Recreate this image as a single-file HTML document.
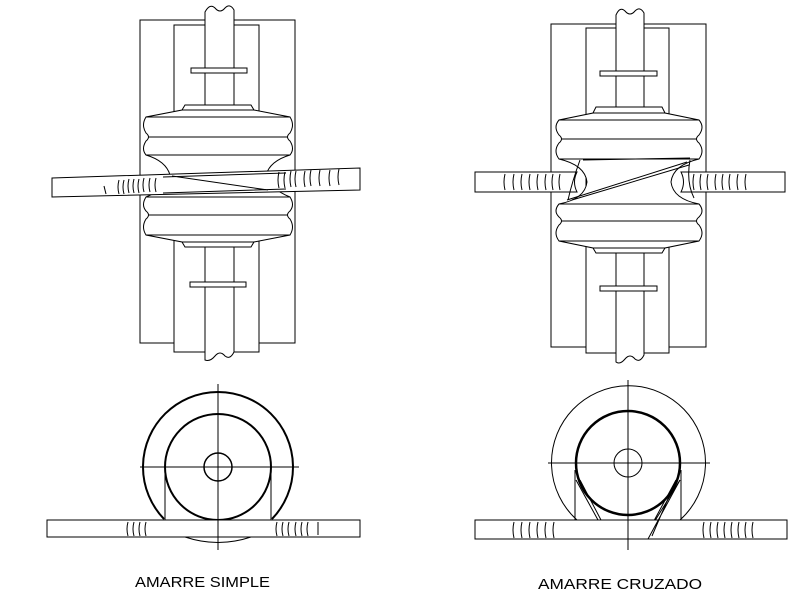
<!DOCTYPE html>
<html><head><meta charset="utf-8"><style>
html,body{margin:0;padding:0;background:#fff;}
svg{display:block;}
text{font-family:"Liberation Sans",sans-serif;font-size:15px;fill:#000;}
</style></head><body>
<svg width="800" height="602" viewBox="0 0 800 602" xmlns="http://www.w3.org/2000/svg" fill="none" stroke="#000" stroke-width="1">
<defs>
<g id="insL">
<path fill="#fff" d="M-36 5 L-33 0 L33 0 L36 5 L72 12 Q77 20 72 28 Q67 32 72 36 Q77 44 72 50 Q52 56 48 70 Q52 84 72 92 Q77 100 72 106 Q67 110 72 114 Q77 122 72 130 L36 137 L33 142 L-33 142 L-36 137 L-72 130 Q-77 122 -72 114 Q-67 110 -72 106 Q-77 100 -72 92 Q-52 84 -48 70 Q-52 56 -72 50 Q-77 44 -72 36 Q-67 32 -72 28 Q-77 20 -72 12 Z"/>
<path d="M-36 5 H36 M-72 12 H72 M-70 32 H70 M-72 50 H72 M-72 92 H72 M-70 110 H70 M-72 130 H72 M-36 137 H36"/>
</g>
<g id="insR">
<path fill="#fff" d="M-36 6 L-33 0 L33 0 L36 6 L70 13 Q76 20 70 28 Q65 32 70 36 Q76 44 70 52 Q44 58 42 75 Q44 92 70 97 Q76 104 70 110 Q65 114 70 118 Q76 126 70 134 L36 141 L33 146 L-33 146 L-36 141 L-70 134 Q-76 126 -70 118 Q-65 114 -70 110 Q-76 104 -70 97 Q-44 92 -42 75 Q-44 58 -70 52 Q-76 44 -70 36 Q-65 32 -70 28 Q-76 20 -70 13 Z"/>
<path d="M-36 6 H36 M-70 13 H70 M-68 32 H68 M-70 52 H70 M-70 97 H70 M-68 114 H68 M-70 134 H70 M-36 141 H36"/>
</g>
<path id="tk" d="M0 0 q-2 7 0 14"/>
<path id="tk2" d="M0 0 q-2 8 0 16"/>
</defs>

<!-- LEFT TOP -->
<rect x="140" y="20" width="155" height="323" fill="#fff"/>
<rect x="174" y="25" width="85" height="327" fill="#fff"/>
<path fill="#fff" d="M205 360 V12 Q210 3 215 8 Q220 14 225 8 Q230 3 234 10 V352 Q230 360 225 356 Q220 350 215 356 Q210 362 205 360 Z"/>
<rect x="191" y="68" width="56" height="5" fill="#fff"/>
<rect x="190" y="282" width="56" height="5" fill="#fff"/>
<use href="#insL" transform="translate(218 105)"/>
<path fill="#fff" d="M52 178 L360 168 L360 190 L52 197 Z"/>
<path fill="#fff" stroke="none" d="M165 177 L285 173 L285 190 L165 193 Z"/>
<path d="M163 177 L286 173 M163 193 L286 189 M172 176 L268 190"/>
<g>
<use href="#tk" x="119" y="180"/><use href="#tk" x="124" y="180"/><use href="#tk" x="129" y="179"/><use href="#tk" x="134" y="179"/><use href="#tk" x="139" y="179"/><use href="#tk" x="144" y="178"/><use href="#tk" x="150" y="178"/><use href="#tk" x="156" y="178"/>
<path d="M104 186 l2 8"/>
<use href="#tk2" x="279" y="172"/><use href="#tk2" x="285" y="172"/><use href="#tk2" x="291" y="171"/><use href="#tk2" x="296" y="171"/><use href="#tk2" x="305" y="171"/><use href="#tk2" x="311" y="170"/><use href="#tk2" x="320" y="170"/><use href="#tk2" x="330" y="170"/><use href="#tk2" x="339" y="169"/>
</g>

<!-- RIGHT TOP -->
<rect x="551" y="24" width="155" height="323" fill="#fff"/>
<rect x="586" y="28" width="83" height="325" fill="#fff"/>
<path fill="#fff" d="M616 362 V15 Q620 6 625 11 Q630 17 635 11 Q640 6 644 13 V355 Q640 363 635 359 Q630 353 625 359 Q620 365 616 362 Z"/>
<rect x="600" y="71" width="57" height="5" fill="#fff"/>
<rect x="600" y="286" width="57" height="5" fill="#fff"/>
<use href="#insR" transform="translate(629 107)"/>
<path fill="#fff" d="M475 172 H577 Q572 182 577 192 H475 Z"/>
<path fill="#fff" d="M785 172 H681 Q686 182 681 192 H785 Z"/>
<path d="M583 160 L690 158 M567 200 L687 162 M572 200 L689 165 M580 160 Q572 182 568 200 M690 160 Q686 182 694 198"/>
<g>
<use href="#tk2" x="505" y="174"/><use href="#tk2" x="514" y="174"/><use href="#tk2" x="522" y="174"/><use href="#tk2" x="530" y="174"/><use href="#tk2" x="538" y="174"/><use href="#tk2" x="546" y="174"/><use href="#tk2" x="553" y="174"/><use href="#tk2" x="560" y="174"/>
<use href="#tk2" x="694" y="174"/><use href="#tk2" x="701" y="174"/><use href="#tk2" x="708" y="174"/><use href="#tk2" x="716" y="174"/><use href="#tk2" x="723" y="174"/><use href="#tk2" x="730" y="174"/><use href="#tk2" x="738" y="174"/><use href="#tk2" x="746" y="174"/>
</g>

<!-- LEFT BOTTOM -->
<path d="M218 384 V550 M140 467 H299 M182 467 h3 M251 467 h3 M218 431 v2 M218 499 v2"/>
<path stroke-width="2" d="M164 519 A75 75 0 1 1 272 519"/>
<circle cx="218" cy="467" r="53" stroke-width="2"/>
<circle cx="218" cy="467" r="14" stroke-width="1.5"/>
<path d="M165 470 V520 M271 470 V520"/>
<path d="M185 537 Q218 548 251 537"/>
<rect x="47" y="520" width="313" height="17" fill="#fff"/>
<path d="M218 518 V550"/>
<g>
<use href="#tk" x="128" y="522"/><use href="#tk" x="134" y="522"/><use href="#tk" x="140" y="522"/><use href="#tk" x="146" y="522"/>
<use href="#tk" x="277" y="522"/><use href="#tk" x="283" y="522"/><use href="#tk" x="289" y="522"/><use href="#tk" x="296" y="522"/><use href="#tk" x="302" y="522"/><use href="#tk" x="308" y="522"/><path d="M318 522 v13"/>
</g>

<!-- RIGHT BOTTOM -->
<path d="M628 380 V550 M548 463 H710 M596 463 h3 M661 463 h3 M628 431 v2 M628 497 v2"/>
<path d="M577 520 A77 77 0 1 1 680 520"/>
<circle cx="628" cy="463" r="52" stroke-width="2.5"/>
<circle cx="628" cy="463" r="14"/>
<path d="M575 470 V520 M681 470 V520 M576 480 L598 520 M580 480 L601 520 M680 480 L645 537 M676 480 L649 530"/>
<rect x="475" y="520" width="312" height="19" fill="#fff"/>
<path d="M680 480 L648 539 M676 480 L652 536 M628 515 V548"/>
<g>
<use href="#tk2" x="514" y="522"/><use href="#tk2" x="522" y="522"/><use href="#tk2" x="530" y="522"/><use href="#tk2" x="538" y="522"/><use href="#tk2" x="546" y="522"/><use href="#tk2" x="554" y="522"/>
<use href="#tk2" x="704" y="522"/><use href="#tk2" x="711" y="522"/><use href="#tk2" x="718" y="522"/><use href="#tk2" x="725" y="522"/><use href="#tk2" x="732" y="522"/><use href="#tk2" x="739" y="522"/><use href="#tk2" x="746" y="522"/><use href="#tk2" x="753" y="522"/>
</g>

<text x="135" y="587" stroke="none" textLength="135" lengthAdjust="spacingAndGlyphs">AMARRE SIMPLE</text>
<text x="538" y="589" stroke="none" textLength="164" lengthAdjust="spacingAndGlyphs">AMARRE CRUZADO</text>
</svg>
</body></html>
